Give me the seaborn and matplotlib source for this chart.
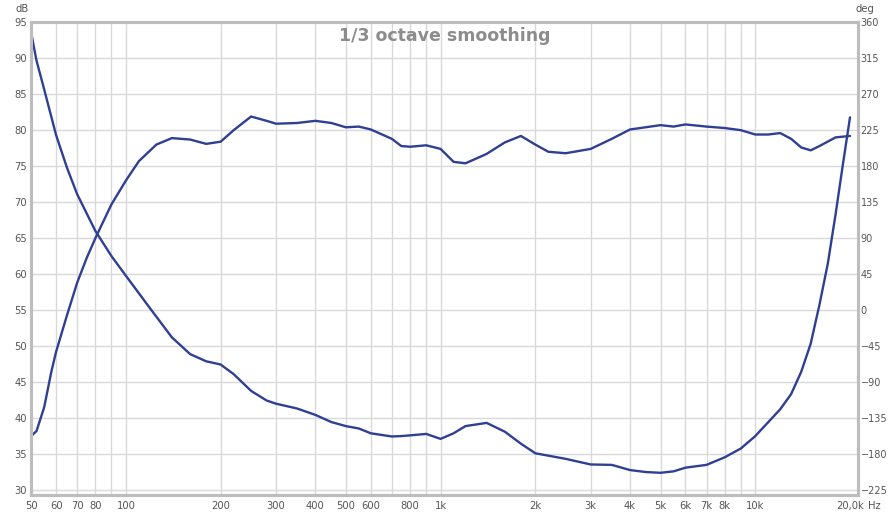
import matplotlib
matplotlib.use("Agg")
import matplotlib.pyplot as plt
import seaborn as sns
import pandas as pd

# Frequencies (Hz) and values
mag_freq = [50, 52, 55, 58, 60, 65, 70, 75, 80, 90, 100, 110, 125, 140, 160, 180, 200, 220, 250, 280,
            300, 350, 400, 450, 500, 550, 600, 700, 750, 800, 900, 1000, 1100, 1200, 1400, 1600,
            1800, 2000, 2200, 2500, 3000, 3500, 4000, 5000, 5500, 6000, 7000, 8000, 9000, 10000,
            11000, 12000, 13000, 14000, 15000, 16000, 18000, 20000]
mag_db = [37.5, 38.2, 41.5, 46.5, 49.2, 54.3, 58.8, 62.2, 65.0, 69.7, 73.0, 75.7, 78.0, 78.9, 78.7, 78.1, 78.4,
          80.0, 81.9, 81.3, 80.9, 81.0, 81.3, 81.0, 80.4, 80.5, 80.1, 78.8, 77.8, 77.7, 77.9, 77.4,
          75.6, 75.4, 76.7, 78.3, 79.2, 78.0, 77.0, 76.8, 77.4, 78.8, 80.1, 80.7, 80.5, 80.8, 80.5,
          80.3, 80.0, 79.4, 79.4, 79.6, 78.8, 77.6, 77.2, 77.8, 79.0, 79.2]

ph_freq = [50, 52, 55, 60, 65, 70, 80, 90, 100, 120, 140, 160, 180, 200, 220, 250, 280, 300, 350, 400,
           450, 500, 550, 600, 700, 750, 800, 900, 1000, 1100, 1200, 1400, 1600, 1800, 2000, 2500,
           3000, 3500, 4000, 4500, 5000, 5500, 6000, 7000, 8000, 9000, 10000, 11000, 12000, 13000,
           14000, 15000, 16000, 17000, 18000, 19000, 20000]
ph_deg = [347, 312, 276, 219, 178, 145, 99, 67.5, 43, 1, -34, -55, -64, -68, -80, -101, -113, -117, -123, -131,
          -140, -145, -148, -154, -158, -157.5, -156.6, -154.8, -161, -154, -145, -141, -152, -167,
          -179, -186, -193, -193.5, -200, -202.5, -203.4, -201.6, -197, -193.5, -184, -173, -157.5,
          -140, -124, -105, -77, -42, 7, 58, 120, 183, 241]

x_ticks = [50, 60, 70, 80, 100, 200, 300, 400, 500, 600, 800, 1000, 2000, 3000, 4000, 5000,
           6000, 7000, 8000, 10000, 20000]
x_labels = ["50", "60", "70", "80", "100", "200", "300", "400", "500", "600", "800", "1k", "2k",
            "3k", "4k", "5k", "6k", "7k", "8k", "10k", "20,0k"]
grid_freqs = [60, 70, 80, 90, 100, 200, 300, 400, 500, 600, 700, 800, 900, 1000, 2000, 3000,
              4000, 5000, 6000, 7000, 8000, 9000, 10000]
db_ticks = list(range(30, 96, 5))
deg_ticks = list(range(-225, 361, 45))

mag = pd.DataFrame({"freq": mag_freq, "db": mag_db})
phase = pd.DataFrame({"freq": ph_freq, "deg": ph_deg})

sns.set_theme(style="white")
plt.rcParams["font.family"] = ["DejaVu Sans"]

line_col = "#2f3f94"
txt_col = "#555555"

fig = plt.figure(figsize=(8.9, 5.12), dpi=100)
ax = fig.add_axes([0.035, 0.033, 0.929, 0.925])
ax2 = ax.twinx()

for f in grid_freqs:
    ax.axvline(f, color="#d9d9d9", lw=1.0, zorder=0)
for d in db_ticks:
    ax.axhline(d, color="#d9d9d9", lw=1.0, zorder=0)

sns.lineplot(data=mag, x="freq", y="db", ax=ax, color=line_col, lw=1.7)
sns.lineplot(data=phase, x="freq", y="deg", ax=ax2, color=line_col, lw=1.7)

ax.set_xscale("log")
ax.set_xlim(50, 21200)
ax.set_ylim(29.3, 95.1)
ax2.set_ylim(-231.3, 360.9)

ax.set_xticks(x_ticks)
ax.set_xticklabels(x_labels)
ax.xaxis.set_minor_locator(matplotlib.ticker.NullLocator())
ax.set_yticks(db_ticks)
ax2.set_yticks(deg_ticks)
ax.set_xlabel("")
ax.set_ylabel("")
ax2.set_ylabel("")

ax.tick_params(axis="both", length=0, labelsize=7.2, labelcolor=txt_col, pad=3)
ax2.tick_params(axis="y", length=0, labelsize=7.0, labelcolor=txt_col, pad=2)
ax.tick_params(axis="x", pad=4)

for a in (ax, ax2):
    for s in a.spines.values():
        s.set_color("#bdbdbd")
        s.set_linewidth(2.2)

fig.text(0.017, 0.992, "dB", ha="left", va="top", fontsize=7.2, color=txt_col)
fig.text(0.983, 0.992, "deg", ha="right", va="top", fontsize=7.2, color=txt_col)
fig.text(0.975, 0.012, "Hz", ha="left", va="center", fontsize=7.2, color=txt_col)
ax.set_title("1/3 octave smoothing", fontsize=12.5, fontweight="bold", color="#8c8c8c",
             y=0.97, va="top")

plt.savefig("out.png", dpi=100)
plt.close()
